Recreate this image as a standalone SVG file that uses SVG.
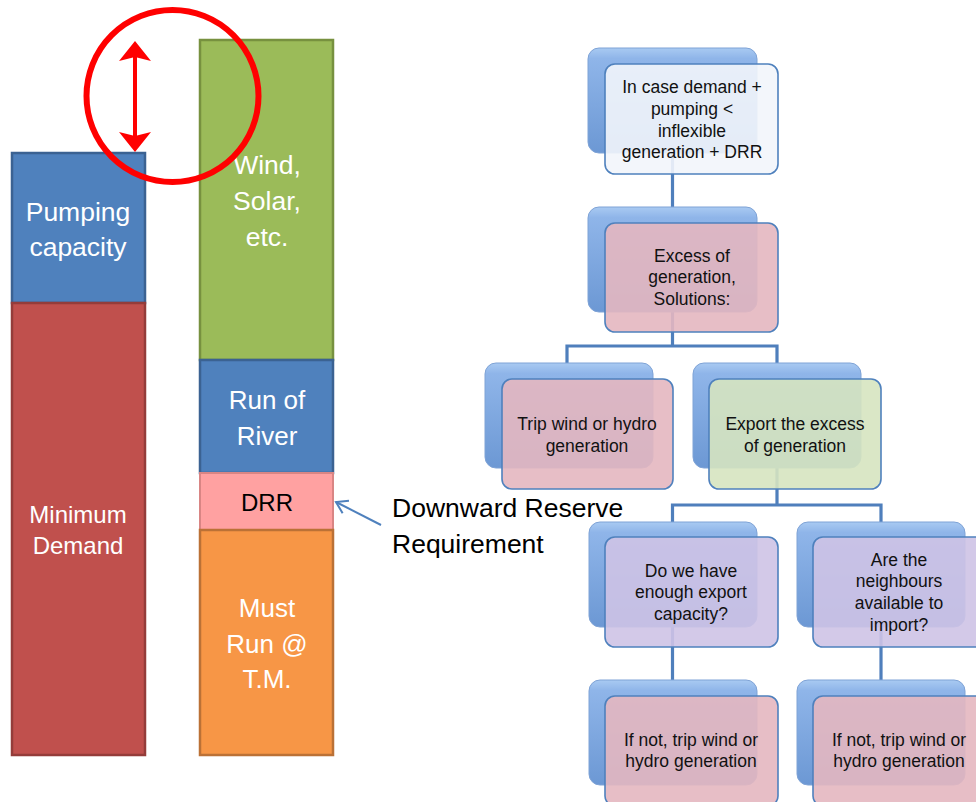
<svg xmlns="http://www.w3.org/2000/svg" width="976" height="802" viewBox="0 0 976 802">
<defs>
<linearGradient id="shadowGrad" x1="0" y1="0" x2="0" y2="1">
<stop offset="0" stop-color="#A9CAF2"/>
<stop offset="0.1" stop-color="#8FB5E9"/>
<stop offset="1" stop-color="#6C98D4"/>
</linearGradient>
<marker id="redHead" markerUnits="userSpaceOnUse" markerWidth="40" markerHeight="40" viewBox="-10 -20 30 40" refX="0" refY="0" orient="auto-start-reverse">
<path d="M16,0 L-4,-16 L0,0 L-4,16 Z" fill="#FF0000"/>
</marker>
<marker id="blueHead" markerUnits="userSpaceOnUse" markerWidth="20" markerHeight="20" viewBox="-14 -10 18 20" refX="0" refY="0" orient="auto">
<path d="M-11,-7 L0,0 L-11,7" fill="none" stroke="#4F81BD" stroke-width="2"/>
</marker>
</defs>
<style>
.big{font-family:"Liberation Sans",Arial,sans-serif;fill:#FFFFFF;text-anchor:middle}
.ft{font-family:"Liberation Sans",Arial,sans-serif;font-size:17.5px;fill:#111111;text-anchor:middle}
.shadow{fill:url(#shadowGrad);stroke:#7FA3D6;stroke-width:1}
.front{stroke:#4F81BD;stroke-width:1.6;fill-opacity:0.9}
.conn{fill:none;stroke:#4F7FBC;stroke-width:3.2}
.white{fill:#F2F5FB}
.pink{fill:#E4B7C0}
.green{fill:#D6E4C0}
.lav{fill:#CEC3E5}
</style>
<rect width="976" height="802" fill="#FFFFFF"/>

<g id="bar-pumping">
<rect x="12" y="153" width="133" height="150" fill="#4F81BD" stroke="#3B6292" stroke-width="2.5"/>
<text class="big" x="78" y="221" font-size="26.5">Pumping</text>
<text class="big" x="78" y="256" font-size="26.5">capacity</text>
</g>
<g id="bar-minimum-demand">
<rect x="12" y="303" width="133" height="452" fill="#C0504D" stroke="#943C3A" stroke-width="2.5"/>
<text class="big" x="78" y="523" font-size="24">Minimum</text>
<text class="big" x="78" y="554" font-size="24">Demand</text>
</g>
<g id="bar-wind">
<rect x="200" y="40" width="133" height="320" fill="#9BBB59" stroke="#77913F" stroke-width="2.5"/>
<text class="big" x="267" y="174" font-size="26.5">Wind,</text>
<text class="big" x="267" y="210" font-size="26.5">Solar,</text>
<text class="big" x="267" y="246" font-size="26.5">etc.</text>
</g>
<g id="bar-run-of-river">
<rect x="200" y="360" width="133" height="113" fill="#4F81BD" stroke="#3B6292" stroke-width="2.5"/>
<text class="big" x="267" y="409" font-size="26">Run of</text>
<text class="big" x="267" y="445" font-size="26">River</text>
</g>
<g id="bar-drr">
<rect x="200" y="473" width="133" height="57" fill="#FFA1A1" stroke="#D98584" stroke-width="2"/>
<text class="big" x="267" y="511" font-size="24" style="fill:#000000">DRR</text>
</g>
<g id="bar-must-run">
<rect x="200" y="530" width="133" height="225" fill="#F79646" stroke="#BB7136" stroke-width="2.5"/>
<text class="big" x="267" y="617" font-size="26">Must</text>
<text class="big" x="267" y="653" font-size="26">Run @</text>
<text class="big" x="267" y="688" font-size="26">T.M.</text>
</g>
<g id="label-downward">
<text x="392" y="517" font-family="Liberation Sans, Arial, sans-serif" font-size="26.5" fill="#000000">Downward Reserve</text>
<text x="392" y="553" font-family="Liberation Sans, Arial, sans-serif" font-size="26.5" fill="#000000">Requirement</text>
</g>
<g id="highlight">
<circle cx="172.5" cy="96" r="86" fill="none" stroke="#FF0000" stroke-width="6"/>
<line x1="135" y1="57" x2="135" y2="136" stroke="#FF0000" stroke-width="4" marker-start="url(#redHead)" marker-end="url(#redHead)"/>
</g>

<g id="connectors">
<line x1="381" y1="525" x2="336" y2="502" stroke="#4F81BD" stroke-width="2" marker-end="url(#blueHead)"/>
<path class="conn" d="M672.5,153 V207"/>
<path class="conn" d="M672.5,312 V346 M567,363 V346 H777 V363"/>
<path class="conn" d="M777,468 V505 M672.5,522 V505 H881 V522"/>
<path class="conn" d="M672.5,627 V680"/>
<path class="conn" d="M881,627 V680"/>
</g>

<g id="node-start">
<rect class="shadow" x="588" y="48" width="169" height="105" rx="11"/>
<rect class="front white" x="605" y="64" width="173" height="110" rx="10"/>
<text class="ft" x="692" y="93">In case demand +</text>
<text class="ft" x="692" y="115">pumping &lt;</text>
<text class="ft" x="692" y="137">inflexible</text>
<text class="ft" x="692" y="158">generation + DRR</text>
</g>
<g id="node-excess">
<rect class="shadow" x="588" y="207" width="169" height="105" rx="11"/>
<rect class="front pink" x="605" y="223" width="173" height="109" rx="10"/>
<text class="ft" x="692" y="262">Excess of</text>
<text class="ft" x="692" y="283">generation,</text>
<text class="ft" x="692" y="305">Solutions:</text>
</g>
<g id="node-trip">
<rect class="shadow" x="485" y="363" width="168" height="105" rx="11"/>
<rect class="front pink" x="502" y="379" width="171" height="110" rx="10"/>
<text class="ft" x="587" y="430">Trip wind or hydro</text>
<text class="ft" x="587" y="452">generation</text>
</g>
<g id="node-export">
<rect class="shadow" x="693" y="363" width="168" height="105" rx="11"/>
<rect class="front green" x="709" y="379" width="172" height="110" rx="10"/>
<text class="ft" x="795" y="430">Export the excess</text>
<text class="ft" x="795" y="452">of generation</text>
</g>
<g id="node-capacity">
<rect class="shadow" x="589" y="522" width="168" height="105" rx="11"/>
<rect class="front lav" x="605" y="537" width="173" height="110" rx="10"/>
<text class="ft" x="691" y="577">Do we have</text>
<text class="ft" x="691" y="598">enough export</text>
<text class="ft" x="691" y="620">capacity?</text>
</g>
<g id="node-neighbours">
<rect class="shadow" x="797" y="522" width="168" height="105" rx="11"/>
<rect class="front lav" x="813" y="537" width="173" height="110" rx="10"/>
<text class="ft" x="899" y="566">Are the</text>
<text class="ft" x="899" y="587">neighbours</text>
<text class="ft" x="899" y="609">available to</text>
<text class="ft" x="899" y="631">import?</text>
</g>
<g id="node-trip-left">
<rect class="shadow" x="589" y="680" width="168" height="105" rx="11"/>
<rect class="front pink" x="605" y="696" width="173" height="110" rx="10"/>
<text class="ft" x="691" y="746">If not, trip wind or</text>
<text class="ft" x="691" y="767">hydro generation</text>
</g>
<g id="node-trip-right">
<rect class="shadow" x="797" y="680" width="168" height="105" rx="11"/>
<rect class="front pink" x="813" y="696" width="173" height="110" rx="10"/>
<text class="ft" x="899" y="746">If not, trip wind or</text>
<text class="ft" x="899" y="767">hydro generation</text>
</g>
</svg>
